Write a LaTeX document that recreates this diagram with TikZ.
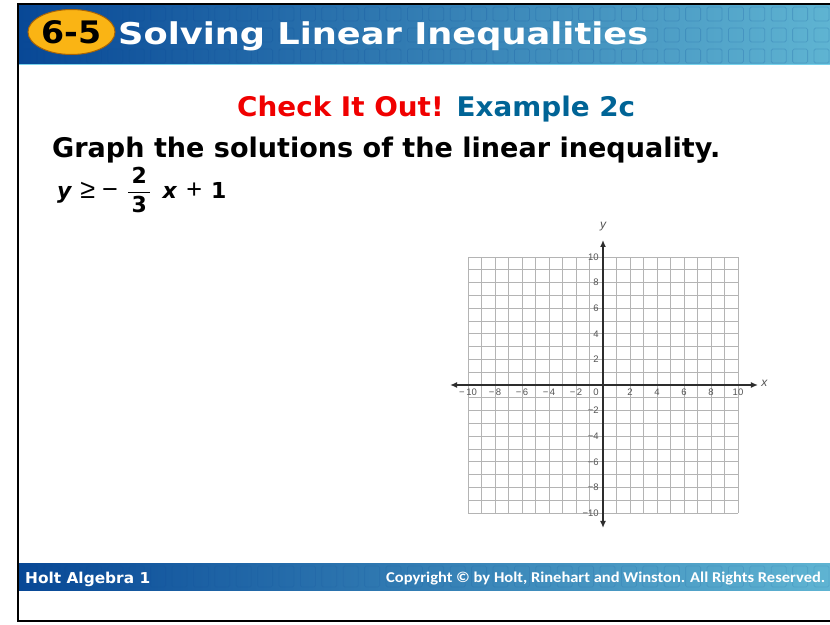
\documentclass[tikz,border=0pt]{standalone}
\usepackage{amsmath}
\usepackage{graphicx}
\usepackage{fontspec}
\setmainfont{DejaVu Sans}
\newfontfamily\liber{Liberation Sans}
\newfontfamily\carlito{Carlito}
\usetikzlibrary{arrows.meta,shapes.geometric,positioning,calc}
\definecolor{HdrDark}  {RGB}{8,  72, 150}
\definecolor{HdrMid}   {RGB}{22, 108,178}
\definecolor{HdrLight} {RGB}{95, 180,210}
\definecolor{HdrEdge}  {RGB}{120,210,235}
\definecolor{BadgeGold}{RGB}{250,180, 20}
\definecolor{BadgeRim} {RGB}{170,100,  5}
\definecolor{AlertRed} {RGB}{240,  0,  0}
\definecolor{ExBlue}   {RGB}{0,  100,150}
\definecolor{GridG}    {RGB}{180,180,180}
\definecolor{AxisG}    {RGB}{45,  45, 45}
\definecolor{TickG}    {RGB}{85,  85, 85}
% stretch a line of text to a given width, height kept
\newcommand{\fitto}[2]{\resizebox{#1}{\height}{#2}}
\newcommand{\opsym}[1]{\text{\liber\fontsize{27}{30}\selectfont #1}}
\tikzset{
  gridln/.style={GridG,line width=0.9pt},
  axisln/.style={AxisG,line width=1.7pt,{Latex[length=7pt,width=6pt]}-{Latex[length=7pt,width=6pt]}},
  ticklbl/.style={TickG,font=\liber\fontsize{9.5}{11}\selectfont,inner sep=0pt},
  tile/.style={HdrDark,opacity=0.2,line width=0.8pt,rounded corners=1.5pt},
}

\begin{document}
\begin{tikzpicture}[x=1pt,y=-1pt]
        \useasboundingbox (0,0) rectangle (830,624);
        \fill[white] (0,0) rectangle (830,624);
        % header band
        \shade[left color=HdrDark,middle color=HdrMid,right color=HdrLight] (19,5) rectangle (830,64);
        \foreach \i in {0,...,37}{
          \foreach \j in {0,1,2}{
            \draw[tile] ({22.2+21.4*\i},{7+21*\j}) rectangle +(15,14);}}
        \draw[HdrEdge,line width=1.5pt] (19,64.5) -- (830,64.5);
        \node[ellipse,fill=BadgeGold,draw=BadgeRim,line width=1pt,minimum width=87pt,minimum height=45pt,
              inner sep=0pt,font=\bfseries\fontsize{31}{36}\selectfont] (badge) at (71.5,32) {\fitto{60pt}{6-5}};
        \node[anchor=base west,white,inner sep=0pt,font=\bfseries\fontsize{30}{36}\selectfont]
          (title) at (118,44.5) {\fitto{530pt}{Solving Linear Inequalities}};
        % slide text
        \node[anchor=base west,inner sep=0pt,font=\bfseries\fontsize{27}{32}\selectfont]
          (check) at (237,116) {\fitto{398pt}{\color{AlertRed}Check It Out! \color{ExBlue}Example 2c}};
        \node[anchor=base west,inner sep=0pt,font=\bfseries\fontsize{27}{32}\selectfont]
          (prompt) at (52,157) {\fitto{668pt}{Graph the solutions of the linear inequality.}};
        \node[anchor=base west,inner sep=0pt,font=\fontsize{22}{26}\selectfont]
          (ineq) at (57,198) {$\textbf{\textit{y}}\hspace{8pt}\opsym{≥}\hspace{7pt}\opsym{−}\hspace{9pt}%
            \dfrac{\,\textbf{2}\,}{\,\textbf{3}\,}\hspace{11pt}\textbf{\textit{x}}\hspace{9pt}\opsym{+}\hspace{9pt}\textbf{1}$};
        % coordinate grid
        \begin{scope}[shift={(603,385)},x=13.5pt,y=12.8pt]
          \foreach \k in {-10,...,10}{
            \draw[gridln] (\k,-10) -- (\k,10);
            \draw[gridln] (-10,\k) -- (10,\k);}
          \coordinate (xl) at (-11.33,0);
          \coordinate (xr) at (11.48,0);
          \coordinate (yb) at (0,-11.17);
          \coordinate (yt) at (0,11.33);
          \draw[axisln] (xl) -- (xr);
          \draw[axisln] (yb) -- (yt);
          \node[TickG,font=\liber\itshape\fontsize{12}{14}\selectfont] (xlab) at (11.95,0.1) {x};
          \node[TickG,font=\liber\itshape\fontsize{12}{14}\selectfont] (ylab) at (0,12.4) {y};
          \foreach \t in {2,4,...,10}{
            \node[ticklbl,anchor=north] (xp\t) at (\t,-0.3) {\t};
            \node[ticklbl,anchor=north] (xn\t) at (-\t,-0.3) {−\,\t};
            \node[ticklbl,anchor=east] (yp\t) at (-0.3,\t) {\t};
            \node[ticklbl,anchor=east] (yn\t) at (-0.3,-\t) {−\t};}
          \node[ticklbl,anchor=north east] (orig) at (-0.3,-0.3) {0};
        \end{scope}
        % footer band
        \shade[left color=HdrDark,middle color=HdrDark!75!HdrLight,right color=HdrLight] (19,563) rectangle (830,590);
        \foreach \i in {0,...,37}{
          \draw[tile,opacity=0.12] ({22.2+21.4*\i},566) rectangle +(15,21);}
        \node[anchor=base west,white,inner sep=0pt,font=\bfseries\fontsize{15}{18}\selectfont]
          (book) at (25,583) {\fitto{125pt}{Holt Algebra 1}};
        \node[anchor=base west,white,inner sep=0pt,font=\carlito\bfseries\fontsize{15}{18}\selectfont]
          (copy) at (386,582) {\fitto{439pt}{Copyright © by Holt, Rinehart and Winston. All Rights Reserved.}};
        % slide frame
        \draw[black,line width=2pt] (830,4.3) -- (18,4.3) -- (18,621) -- (830,621);
      \end{tikzpicture}
\end{document}
